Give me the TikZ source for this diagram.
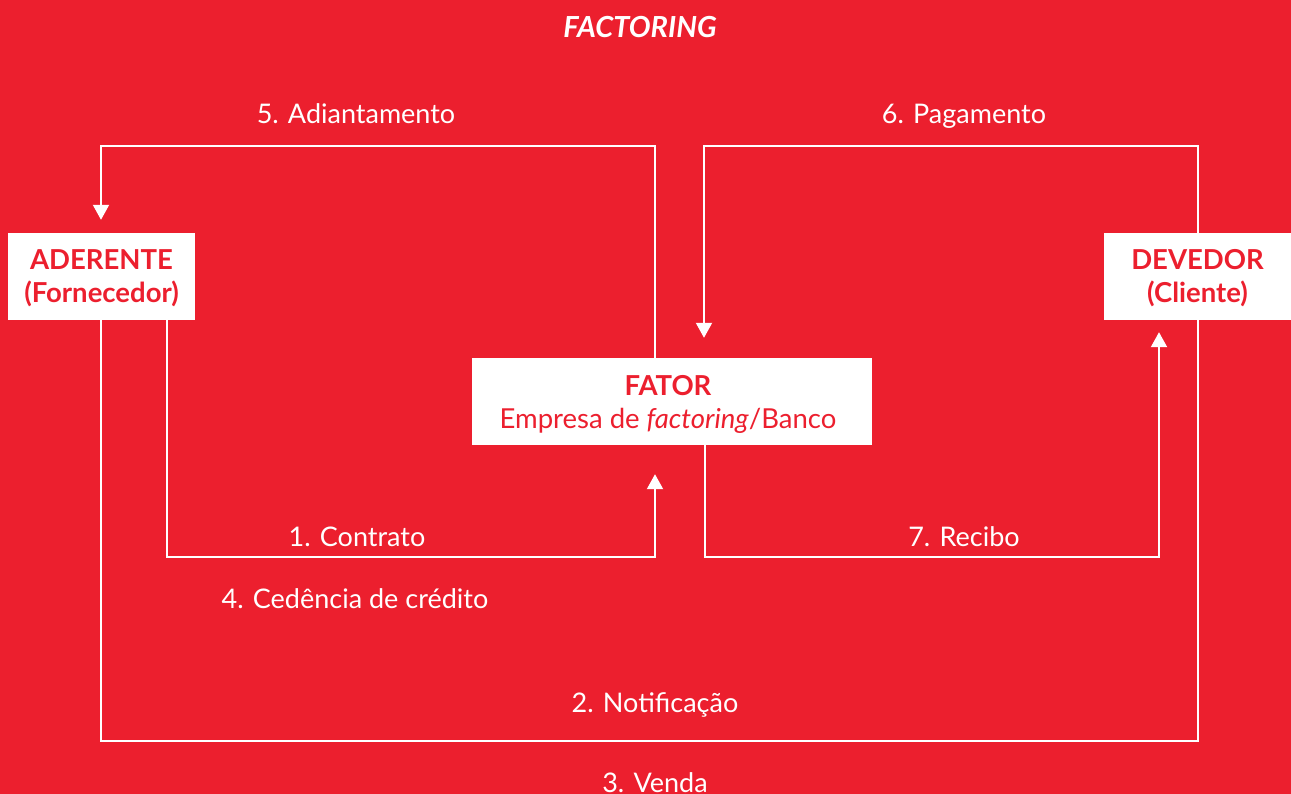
\documentclass[tikz,border=0pt]{standalone}
\usepackage{fontspec}
\setmainfont{Lato}
\usetikzlibrary{arrows.meta}
\definecolor{bgred}{HTML}{EC1F2E}
\begin{document}
\begin{tikzpicture}[x=1pt,y=-1pt,
  box/.style={fill=white,draw=none,minimum width=#1,minimum height=87pt,inner sep=0pt,align=center,text=bgred,font=\fontsize{27.5}{33}\selectfont},
  lab/.style={text=white,anchor=base,font=\fontsize{27}{30}\selectfont,inner sep=0pt},
  conn/.style={draw=white,line width=2pt},
  arr/.style={conn,-{Triangle[width=16pt,length=15pt]}}]
\useasboundingbox[fill=bgred] (0,0) rectangle (1291,794);
\node[text=white,font=\fontsize{29}{32}\selectfont\bfseries\itshape,anchor=base,inner sep=0pt] (title) at (640,38) {FACTORING};
\node[box=187pt] (ader) at (101.5,276.5) {};
\node[text=bgred,font=\fontsize{27.5}{33}\selectfont\bfseries,align=center,inner sep=0pt] (adert) at (101.5,278.5) {ADERENTE\\(Fornecedor)};
\node[box=187pt] (dev) at (1197.5,276.5) {};
\node[text=bgred,font=\fontsize{27.5}{33}\selectfont\bfseries,align=center,inner sep=0pt] (devt) at (1197.5,278.5) {DEVEDOR\\(Cliente)};
\node[box=400pt] (fator) at (672,401.5) {};
\node[text=bgred,font=\fontsize{27.5}{33}\selectfont,align=center,inner sep=0pt] (fatort) at (668,404.5) {\textbf{FATOR}\\Empresa de \textit{factoring}/Banco};
\coordinate (c5) at (655,146);
\coordinate (c6) at (704,146);
\coordinate (c1) at (167,557);
\coordinate (c7) at (705,557);
\coordinate (c2) at (101,741);
% 5 Adiantamento
\draw[arr] (fator.north -| c5) |- (101,146) -- ([yshift=13pt]ader.north -| c2);
% 6 Pagamento
\draw[arr] (dev.north -| 1198,0) |- (c6) -- ([yshift=20pt]fator.north -| c6);
% 1 Contrato
\draw[arr] (ader.south -| c1) |- (655,557) -- ([yshift=-29pt]fator.south -| c5);
% 7 Recibo
\draw[arr] (fator.south -| c7) |- (1159,557) -- ([yshift=-12pt]dev.south -| 1159,0);
% 2 Notificacao
\draw[conn] (ader.south -| c2) |- (1198,741) -- (dev.south -| 1198,0);
\node[lab] (l5) at (356,123.5) {5. Adiantamento};
\node[lab] (l6) at (964,123.5) {6. Pagamento};
\node[lab] (l1) at (357,546.5) {1. Contrato};
\node[lab] (l7) at (964,546.5) {7. Recibo};
\node[lab] (l4) at (355,608.5) {4. Cedência de crédito};
\node[lab] (l2) at (655,712.5) {2. Notificação};
\node[lab] (l3) at (655,792.5) {3. Venda};
\end{tikzpicture}
\end{document}
